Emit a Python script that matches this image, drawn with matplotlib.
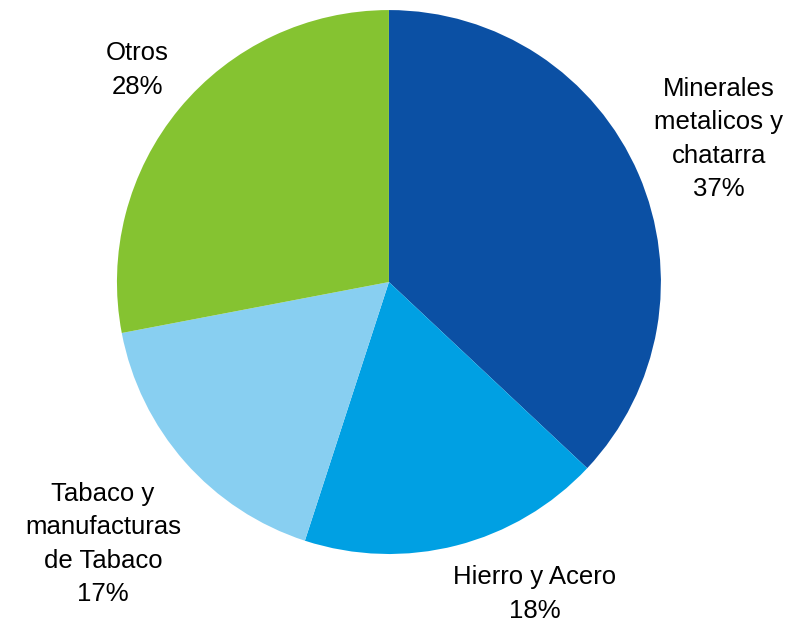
import matplotlib.pyplot as plt

plt.rcParams['font.family'] = ['Liberation Sans', 'DejaVu Sans']

labels = ['Minerales\nmetalicos y\nchatarra', 'Hierro y Acero',
          'Tabaco y\nmanufacturas\nde Tabaco', 'Otros']
shares = [37, 18, 17, 28]
colors = ['#0B50A4', '#00A0E3', '#88CFF1', '#85C331']
# label offsets from pie centre, in units of the radius
label_pos = [(1.213, 0.526), (0.537, -1.147), (-1.051, -0.963), (-0.926, 0.779)]

fig = plt.figure(figsize=(7.92, 6.22), dpi=100)
ax = fig.add_axes([0, 0, 1, 1])

ax.pie(shares, colors=colors, startangle=90, counterclock=False,
       radius=1.0, wedgeprops=dict(linewidth=0))

for lab, val, (x, y) in zip(labels, shares, label_pos):
    ax.text(x, y, f'{lab}\n{val}%', ha='center', va='center',
            fontsize=18.5, linespacing=1.5, color='black')

ax.set_xlim(-1.430, 1.482)
ax.set_ylim(-1.25, 1.037)
ax.set_aspect('equal')
ax.axis('off')

fig.savefig('out.png', dpi=100)
